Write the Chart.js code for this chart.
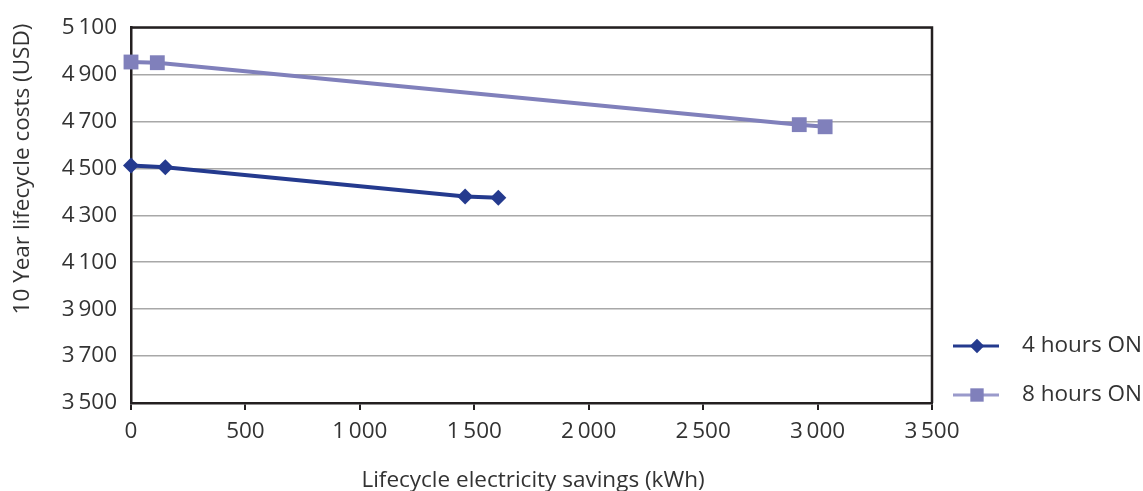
<!DOCTYPE html>
<html>
<head>
<meta charset="utf-8">
<script src="https://cdn.jsdelivr.net/npm/chart.js@4.4.1/dist/chart.umd.min.js"></script>
<style>
  html, body { margin: 0; padding: 0; background: #fff; }
</style>
</head>
<body>
<canvas id="grafico" width="1143" height="491"></canvas>
<script>
// ---- Datos ----
const nombresSeries = ['4 hours ON', '8 hours ON'];
const ahorro4h = [0, 150, 1460, 1605];
const costo4h = [4512, 4505, 4380, 4375];
const ahorro8h = [0, 115, 2920, 3033];
const costo8h = [4953, 4950, 4686, 4677];
const ticksX = [0, 500, 1000, 1500, 2000, 2500, 3000, 3500];
const ticksY = [3500, 3700, 3900, 4100, 4300, 4500, 4700, 4900, 5100];
const tituloX = 'Lifecycle electricity savings (kWh)';
const tituloY = '10 Year lifecycle costs (USD)';

const colores = ['#243a8e', '#8080bb'];
const coloresLeyenda = ['#243a8e', '#9a9acb'];
const estilos = ['rectRot', 'rect'];
const radios = [8, 10.5];
const fuente = '"Open Sans", Lato, sans-serif';
const tamFuente = 22.5;
const colorTexto = '#333333';
const colorEje = '#231f20';

Chart.defaults.font.family = fuente;
Chart.defaults.font.size = tamFuente;
Chart.defaults.color = colorTexto;

const miles = v => String(v).replace(/\B(?=(\d{3})+(?!\d))/g, '\u2009');
const aPuntos = (xs, ys) => xs.map((x, i) => ({ x: x, y: ys[i] }));

// borde superior y derecho + titulos + leyenda
const extras = {
    id: 'extras',
    beforeDatasetsDraw(chart) {
        const { ctx, chartArea: a } = chart;
        ctx.save();
        ctx.strokeStyle = colorEje;
        ctx.lineWidth = 2.5;
        ctx.beginPath();
        ctx.moveTo(a.left, a.top);
        ctx.lineTo(a.right, a.top);
        ctx.lineTo(a.right, a.bottom);
        ctx.stroke();
        ctx.restore();
    },
    afterDraw(chart) {
        const { ctx } = chart;
        ctx.save();
        ctx.fillStyle = colorTexto;
        ctx.font = tamFuente + 'px ' + fuente;
        ctx.textAlign = 'center';
        ctx.textBaseline = 'middle';
        ctx.fillText(tituloX, 533, 481);
        ctx.translate(23, 169);
        ctx.rotate(-Math.PI / 2);
        ctx.fillText(tituloY, 0, 0);
        ctx.restore();

        const filas = [346, 395];
        chart.data.datasets.forEach((ds, i) => {
            const y = filas[i];
            ctx.save();
            ctx.strokeStyle = coloresLeyenda[i];
            ctx.lineWidth = 3;
            ctx.beginPath();
            ctx.moveTo(953, y);
            ctx.lineTo(999, y);
            ctx.stroke();
            ctx.fillStyle = ds.pointBackgroundColor;
            ctx.strokeStyle = ds.pointBorderColor;
            Chart.helpers.drawPoint(ctx, { pointStyle: ds.pointStyle, radius: ds.pointRadius * 0.9, borderWidth: 0, rotation: 0 }, 977, y);
            ctx.fillStyle = colorTexto;
            ctx.font = tamFuente + 'px ' + fuente;
            ctx.textAlign = 'left';
            ctx.textBaseline = 'middle';
            ctx.fillText(ds.label, 1022, y);
            ctx.restore();
        });
    }
};

const series = [aPuntos(ahorro4h, costo4h), aPuntos(ahorro8h, costo8h)];

new Chart(document.getElementById('grafico'), {
    type: 'line',
    data: {
        datasets: series.map((datos, i) => ({
            label: nombresSeries[i],
            data: datos,
            borderColor: colores[i],
            backgroundColor: colores[i],
            borderWidth: 4,
            pointStyle: estilos[i],
            pointRadius: radios[i],
            pointBackgroundColor: colores[i],
            pointBorderColor: colores[i],
            pointBorderWidth: 0,
            tension: 0,
            clip: false
        }))
    },
    options: {
        responsive: false,
        animation: false,
        devicePixelRatio: 1,
        layout: { autoPadding: false, padding: { top: 25, right: 211, bottom: 0, left: 0 } },
        plugins: { legend: { display: false }, tooltip: { enabled: false } },
        scales: {
            x: {
                type: 'linear',
                min: 0, max: 3500,
                afterFit: s => { s.height = 88; },
                afterBuildTicks: s => { s.ticks = ticksX.map(v => ({ value: v })); },
                ticks: { callback: v => miles(v), padding: 8, maxRotation: 0 },
                grid: { drawOnChartArea: false, drawTicks: true, tickLength: 7, color: colorEje, lineWidth: 2 },
                border: { display: true, color: colorEje, width: 2.5 }
            },
            y: {
                min: 3500, max: 5100,
                afterFit: s => { s.width = 131; },
                afterBuildTicks: s => { s.ticks = ticksY.map(v => ({ value: v })); },
                ticks: { callback: v => miles(v), padding: 14 },
                grid: { color: '#a8a8a8', lineWidth: 1.5, drawTicks: false },
                border: { display: true, color: colorEje, width: 2.5 }
            }
        }
    },
    plugins: [extras]
});
</script>
</body>
</html>
